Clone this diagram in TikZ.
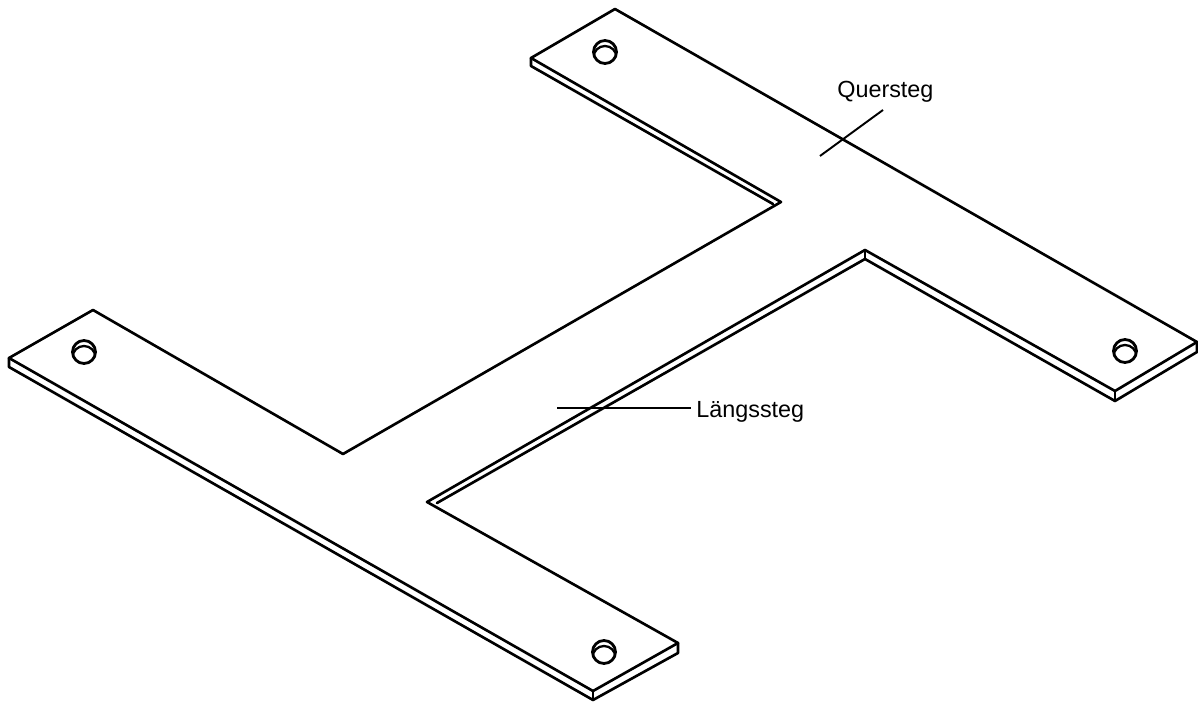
\documentclass[tikz,border=0pt]{standalone}
\usepackage{fontspec}
\setmainfont{Liberation Sans}
\usetikzlibrary{positioning,shapes.geometric}
\tikzstyle{plate} = [draw,line width=1.5pt,line join=round,line cap=round]
\tikzstyle{leader} = [draw,line width=1.1pt]
\tikzstyle{hole} = [draw,line width=1.6pt,ellipse,minimum width=0.46cm,minimum height=0.46cm,inner sep=0pt]
\tikzstyle{label} = [font=\fontsize{13.3pt}{15pt}\selectfont,inner sep=0pt,anchor=base west]
\begin{document}
\begin{tikzpicture}[x=0.02cm,y=-0.02cm]
		\useasboundingbox (0,0) rectangle (1198,702);
		%top face corners
		\coordinate (apexTop) at (615,9);
		\coordinate (endRight) at (1197,342);
		\coordinate (frontRight) at (1115,391);
		\coordinate (notchRight) at (865,250);
		\coordinate (notchLeft) at (427,502);
		\coordinate (endBottom) at (678,643);
		\coordinate (frontBottom) at (593,691);
		\coordinate (frontLeft) at (9,358);
		\coordinate (apexLeft) at (93,310);
		\coordinate (innerLeft) at (343,454);
		\coordinate (innerRight) at (781,202);
		\coordinate (frontTop) at (531,58);
		%lower edges
		\coordinate (endRightLow) at (1197,352);
		\coordinate (frontRightLow) at (1115,401);
		\coordinate (notchRightLow) at (865,259);
		\coordinate (notchLeftLow) at (437,503);
		\coordinate (endBottomLow) at (678,653);
		\coordinate (frontBottomLow) at (593,700);
		\coordinate (frontLeftLow) at (9,367);
		\coordinate (frontTopLow) at (531,66);
		\coordinate (innerRightLow) at (773,204);
		%plate
		\path[plate](apexTop)--(endRight)--(frontRight)--(notchRight)--(notchLeft)--(endBottom)--(frontBottom)--(frontLeft)--(apexLeft)--(innerLeft)--(innerRight)--(frontTop)--cycle;
		\path[plate](frontTop)--(frontTopLow)--(innerRightLow);
		\path[plate](endRight)--(endRightLow)--(frontRightLow)--(notchRightLow)--(notchLeftLow);
		\path[plate](frontRight)--(frontRightLow);
		\path[plate](notchRight)--(notchRightLow);
		\path[plate](endBottom)--(endBottomLow)--(frontBottomLow)--(frontLeftLow)--(frontLeft);
		\path[plate](frontBottom)--(frontBottomLow);
		%holes
		\foreach \name/\x/\y in {holeTop/605/52,holeRight/1125/351,holeLeft/84/352,holeBottom/604/652}{
			\node[hole](\name) at (\x,\y){};
			\begin{scope}
				\clip (\x,\y) ellipse [x radius=11.5,y radius=11.5];
				\draw[line width=1.3pt] (\x,\y+5.5) ellipse [x radius=11.5,y radius=11.5];
			\end{scope}
		}
		%labels
		\node[label](quersteg) at (837,98){Quersteg};
		\node[label](laengssteg) at (696,418){Längssteg};
		\coordinate (querEnd) at (820,156);
		\coordinate (querStart) at (883,110);
		\coordinate (laengsEnd) at (557,408);
		\path[leader](querEnd)--(querStart);
		\path[leader,shorten >=0.1cm](laengsEnd)--(laengssteg.west |- laengsEnd);
	\end{tikzpicture}
\end{document}
